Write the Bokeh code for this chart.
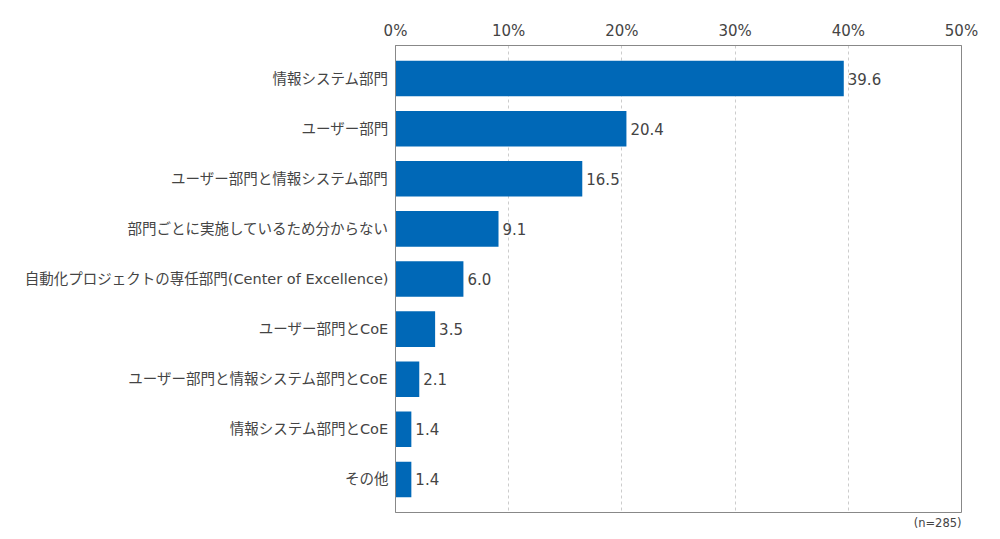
from bokeh.plotting import figure
from bokeh.models import Range1d, FixedTicker, PrintfTickFormatter, Title
from bokeh.core.properties import value
from bokeh.embed import file_html
from bokeh.resources import INLINE

categories = [
    "情報システム部門",
    "ユーザー部門",
    "ユーザー部門と情報システム部門",
    "部門ごとに実施しているため分からない",
    "自動化プロジェクトの専任部門(Center of Excellence)",
    "ユーザー部門とCoE",
    "ユーザー部門と情報システム部門とCoE",
    "情報システム部門とCoE",
    "その他",
]
values = [39.6, 20.4, 16.5, 9.1, 6.0, 3.5, 2.1, 1.4, 1.4]
x_ticks = [0, 10, 20, 30, 40, 50]
note = "(n=285)"

FONT = "DejaVu Sans, Noto Sans CJK JP, sans-serif"
TXT = "#444444"
idx = list(range(len(categories)))
labels = [f"{v:.1f}" for v in values]

p = figure(width=984, height=532, output_backend="svg", toolbar_location=None,
           x_axis_location="above",
           x_range=Range1d(0, 50), y_range=Range1d(8.66, -0.66),
           min_border_left=395, min_border_right=23, min_border_top=45, min_border_bottom=20)

p.hbar(y=idx, left=0, right=values, height=0.71, color="#0068b7", line_color=None)
p.text(x=values, y=idx, text=labels, x_offset=4, text_baseline="middle", text_align="left",
       text_font=value(FONT), text_font_size="15px", text_color=TXT)

p.xaxis.ticker = FixedTicker(ticks=x_ticks)
p.xaxis.formatter = PrintfTickFormatter(format="%d%%")
p.xaxis.major_tick_line_color = None
p.xaxis.minor_tick_line_color = None
p.xaxis.major_tick_out = 0
p.xaxis.minor_tick_out = 0
p.xaxis.axis_line_color = "#888888"
p.xaxis.major_label_text_font = FONT
p.xaxis.major_label_text_font_size = "15px"
p.xaxis.major_label_text_color = TXT
p.xaxis.major_label_standoff = 6

p.yaxis.ticker = FixedTicker(ticks=idx)
p.yaxis.major_label_overrides = {i: c for i, c in zip(idx, categories)}
p.yaxis.major_tick_line_color = None
p.yaxis.minor_tick_line_color = None
p.yaxis.major_tick_out = 0
p.yaxis.minor_tick_out = 0
p.yaxis.axis_line_color = "#888888"
p.yaxis.major_label_text_font = FONT
p.yaxis.major_label_text_font_size = "14.5px"
p.yaxis.major_label_text_color = TXT
p.yaxis.major_label_standoff = 7

p.xgrid.grid_line_color = "#cccccc"
p.xgrid.grid_line_dash = "3 3"
p.ygrid.grid_line_color = None
p.outline_line_color = "#888888"
p.background_fill_color = "white"
p.border_fill_color = "white"

p.add_layout(Title(text=note, align="right", text_font=FONT, text_font_size="11.5px",
                   text_font_style="normal", text_color=TXT, standoff=3, offset=0), "below")

open("out.html", "w").write(file_html(p, INLINE))
